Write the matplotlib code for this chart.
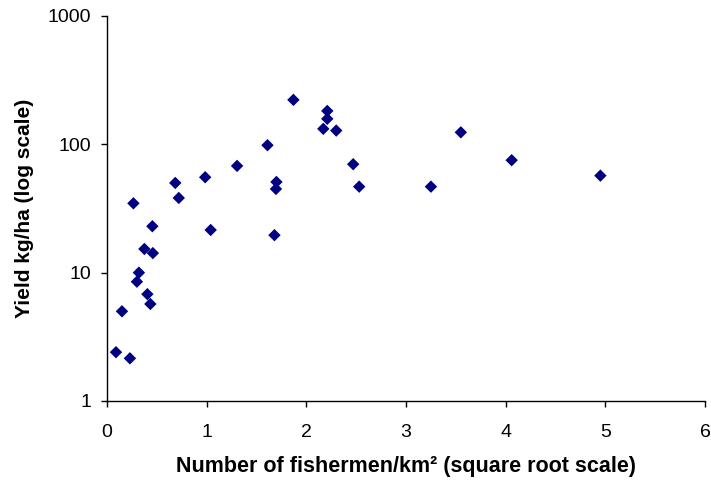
import matplotlib.pyplot as plt
import numpy as np

plt.rcParams["font.family"] = ["Liberation Sans", "DejaVu Sans"]

# sqrt(fishermen per km2) and yield (kg/ha)
fishermen_sqrt = [0.09, 0.23, 0.15, 0.265, 0.455, 0.375, 0.46, 0.32, 0.30, 0.405,
                  0.435, 0.685, 0.72, 0.985, 1.04, 1.305, 1.87, 2.21, 2.21, 2.17,
                  2.30, 1.61, 1.70, 1.695, 1.68, 2.47, 2.53, 3.55, 4.06, 4.95, 3.25]
yield_kg_ha = [2.4, 2.15, 5.0, 34.7, 23.0, 15.3, 14.2, 10.0, 8.5, 6.8,
               5.7, 50.0, 38.2, 55.4, 21.5, 67.9, 222, 182, 158, 132,
               128, 98.4, 50.9, 44.9, 19.6, 70.0, 46.8, 124, 75.2, 57.0, 46.8]

fig = plt.figure(figsize=(7.11, 4.87), dpi=100)
ax = fig.add_axes([0.1505, 0.1766, 0.8411, 0.7906])

ax.scatter(fishermen_sqrt, yield_kg_ha, marker="D", s=40, color="#000080",
           edgecolors="none", zorder=3)

ax.set_yscale("log")
ax.set_ylim(1, 1000)
ax.set_xlim(0, 6)
ax.set_yticks([1, 10, 100, 1000])
ax.set_yticklabels(["1", "10", "100", "1000"])
ax.minorticks_off()
ax.set_xticks(np.arange(0, 7, 1))

ax.spines["top"].set_visible(False)
ax.spines["right"].set_visible(False)
for side in ["left", "bottom"]:
    ax.spines[side].set_linewidth(1.0)
ax.tick_params(direction="out", length=4.5, width=1, labelsize=14)
ax.tick_params(axis="x", pad=12)
ax.tick_params(axis="y", pad=7)

ax.set_xlabel("Number of fishermen/km² (square root scale)", fontsize=15.5,
              fontweight="bold", labelpad=11)
ax.set_ylabel("Yield kg/ha (log scale)", fontsize=15, fontweight="bold", labelpad=10)

fig.savefig("out.png", dpi=100)
